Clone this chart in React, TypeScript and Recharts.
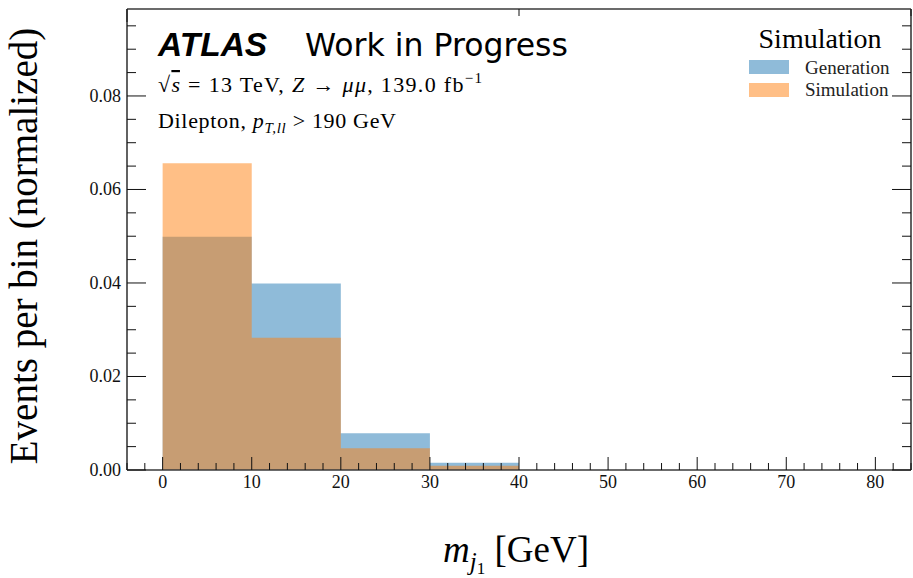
import React from "react";
import { ComposedChart, Area, XAxis, YAxis } from "recharts";

// Histogram bin edges (GeV) and normalized contents per bin
const binEdges = [0, 10, 20, 30, 40];
const generation = [0.0499, 0.0399, 0.00785, 0.00156];
const simulation = [0.0656, 0.0283, 0.00464, 0.00092];

// Axis ticks
const xMajorTicks = [0, 10, 20, 30, 40, 50, 60, 70, 80];
const yMajorTicks = [0, 0.02, 0.04, 0.06, 0.08];
const xDomain = [-4, 84];
const yDomain = [0, 0.0986];
const xMinorStep = 2;
const yMinorStep = 0.005;

const xAllTicks: number[] = [];
for (let i = Math.ceil(xDomain[0] / xMinorStep); i * xMinorStep <= xDomain[1]; i++) xAllTicks.push(i * xMinorStep);
const yAllTicks: number[] = [];
for (let i = 0; i * yMinorStep <= yDomain[1] + 1e-9; i++) yAllTicks.push(Math.round(i * yMinorStep * 1000) / 1000);

const isXMajor = (v: number) => xMajorTicks.some((t) => Math.abs(t - v) < 1e-9);
const isYMajor = (v: number) => yMajorTicks.some((t) => Math.abs(t - v) < 1e-9);

// stepAfter needs a closing point at the last edge carrying the last bin value
const data = binEdges.map((e, i) => ({
  x: e,
  gen: generation[Math.min(i, generation.length - 1)],
  sim: simulation[Math.min(i, simulation.length - 1)],
}));

const serif = "'Liberation Serif', 'Times New Roman', serif";
const W = 913;
const H = 578;
const margin = { top: 8, right: 1, left: 126, bottom: 107 };
const axisStroke = { stroke: "#3a3a3a", strokeWidth: 1.6 };

const XTickBottom = (props: any) => {
  const { x, y, payload } = props;
  const major = isXMajor(payload.value);
  return (
    <g>
      <line x1={x} x2={x} y1={y} y2={y - (major ? 13 : 7)} stroke="#111" strokeWidth={1} />
      {major && (
        <text x={x} y={y + 18} textAnchor="middle" fontFamily={serif} fontSize={18} fill="#111">
          {payload.value}
        </text>
      )}
    </g>
  );
};

const XTickTop = (props: any) => {
  const { x, y, payload } = props;
  const major = isXMajor(payload.value);
  return <line x1={x} x2={x} y1={y} y2={y + (major ? 13 : 7)} stroke="#111" strokeWidth={1} />;
};

const YTickLeft = (props: any) => {
  const { x, y, payload } = props;
  const major = isYMajor(payload.value);
  return (
    <g>
      <line x1={x} x2={x + (major ? 19 : 9)} y1={y} y2={y} stroke="#111" strokeWidth={1} />
      {major && (
        <text x={x - 6} y={y + 6} textAnchor="end" fontFamily={serif} fontSize={18} fill="#111">
          {payload.value.toFixed(2)}
        </text>
      )}
    </g>
  );
};

const YTickRight = (props: any) => {
  const { x, y, payload } = props;
  const major = isYMajor(payload.value);
  return <line x1={x} x2={x - (major ? 19 : 9)} y1={y} y2={y} stroke="#111" strokeWidth={1} />;
};

export default function App() {
  return (
    <div style={{ position: "absolute", left: 0, top: 0, width: W, height: H, background: "#fff" }}>
      <ComposedChart width={W} height={H} data={data} margin={margin}>
        <XAxis
          dataKey="x"
          type="number"
          domain={xDomain}
          allowDataOverflow
          ticks={xAllTicks}
          interval={0}
          height={1}
          tickSize={0}
          tickMargin={0}
          tickLine={false}
          axisLine={axisStroke}
          tick={<XTickBottom />}
        />
        <XAxis
          xAxisId="top"
          orientation="top"
          type="number"
          domain={xDomain}
          allowDataOverflow
          ticks={xAllTicks}
          interval={0}
          height={1}
          tickSize={0}
          tickMargin={0}
          tickLine={false}
          axisLine={axisStroke}
          tick={<XTickTop />}
        />
        <YAxis
          type="number"
          domain={yDomain}
          allowDataOverflow
          ticks={yAllTicks}
          interval={0}
          width={1}
          tickSize={0}
          tickMargin={0}
          tickLine={false}
          axisLine={axisStroke}
          tick={<YTickLeft />}
        />
        <YAxis
          yAxisId="right"
          orientation="right"
          type="number"
          domain={yDomain}
          allowDataOverflow
          ticks={yAllTicks}
          interval={0}
          width={1}
          tickSize={0}
          tickMargin={0}
          tickLine={false}
          axisLine={axisStroke}
          tick={<YTickRight />}
        />
        <Area
          type="stepAfter"
          dataKey="gen"
          stroke="none"
          fill="#1f77b4"
          fillOpacity={0.5}
          dot={false}
          activeDot={false}
          isAnimationActive={false}
        />
        <Area
          type="stepAfter"
          dataKey="sim"
          stroke="none"
          fill="#ff7f0e"
          fillOpacity={0.5}
          dot={false}
          activeDot={false}
          isAnimationActive={false}
        />
      </ComposedChart>
      <svg
        width={W}
        height={H}
        style={{ position: "absolute", left: 0, top: 0, pointerEvents: "none" }}
      >
        <text x={158} y={56} fontFamily="'Liberation Sans', Arial, sans-serif" fontWeight="bold" fontStyle="italic" fontSize={33.5} fill="#000">
          ATLAS
        </text>
        <text x={305} y={56} fontFamily="'DejaVu Sans', sans-serif" fontSize={31.5} fill="#000">
          Work in Progress
        </text>
        <text x={158} y={92} fontFamily={serif} fontSize={22} fill="#000" textLength={324} lengthAdjust="spacing">
          √<tspan fontStyle="italic" textDecoration="overline">s</tspan> = 13 TeV, <tspan fontStyle="italic">Z</tspan> → <tspan fontStyle="italic">μμ</tspan>, 139.0 fb
          <tspan fontSize={15} dy={-9}>−1</tspan>
        </text>
        <text x={158} y={128} fontFamily={serif} fontSize={22} fill="#000" textLength={238} lengthAdjust="spacing">
          Dilepton, <tspan fontStyle="italic">p</tspan>
          <tspan fontStyle="italic" fontSize={15} dy={5}>T,ll</tspan>
          <tspan dy={-5}> &gt; 190 GeV</tspan>
        </text>

        <text x={820} y={48} textAnchor="middle" fontFamily={serif} fontSize={28} fill="#000">
          Simulation
        </text>
        <rect x={749} y={60} width={40} height={14} fill="#1f77b4" fillOpacity={0.5} />
        <rect x={749} y={83} width={40} height={14} fill="#ff7f0e" fillOpacity={0.5} />
        <text x={805} y={74} fontFamily={serif} fontSize={19} fill="#222">
          Generation
        </text>
        <text x={805} y={96} fontFamily={serif} fontSize={19} fill="#222">
          Simulation
        </text>

        <text
          transform="translate(37,246) rotate(-90)"
          textAnchor="middle"
          fontFamily={serif}
          fontSize={39}
          fill="#000"
        >
          Events per bin (normalized)
        </text>
        <text x={516} y={562} textAnchor="middle" fontFamily={serif} fontSize={37} fill="#000">
          <tspan fontStyle="italic">m</tspan>
          <tspan fontStyle="italic" fontSize={25} dy={8}>j</tspan>
          <tspan fontSize={17} dy={4}>1</tspan>
          <tspan dy={-12}> [GeV]</tspan>
        </text>
      </svg>
    </div>
  );
}
